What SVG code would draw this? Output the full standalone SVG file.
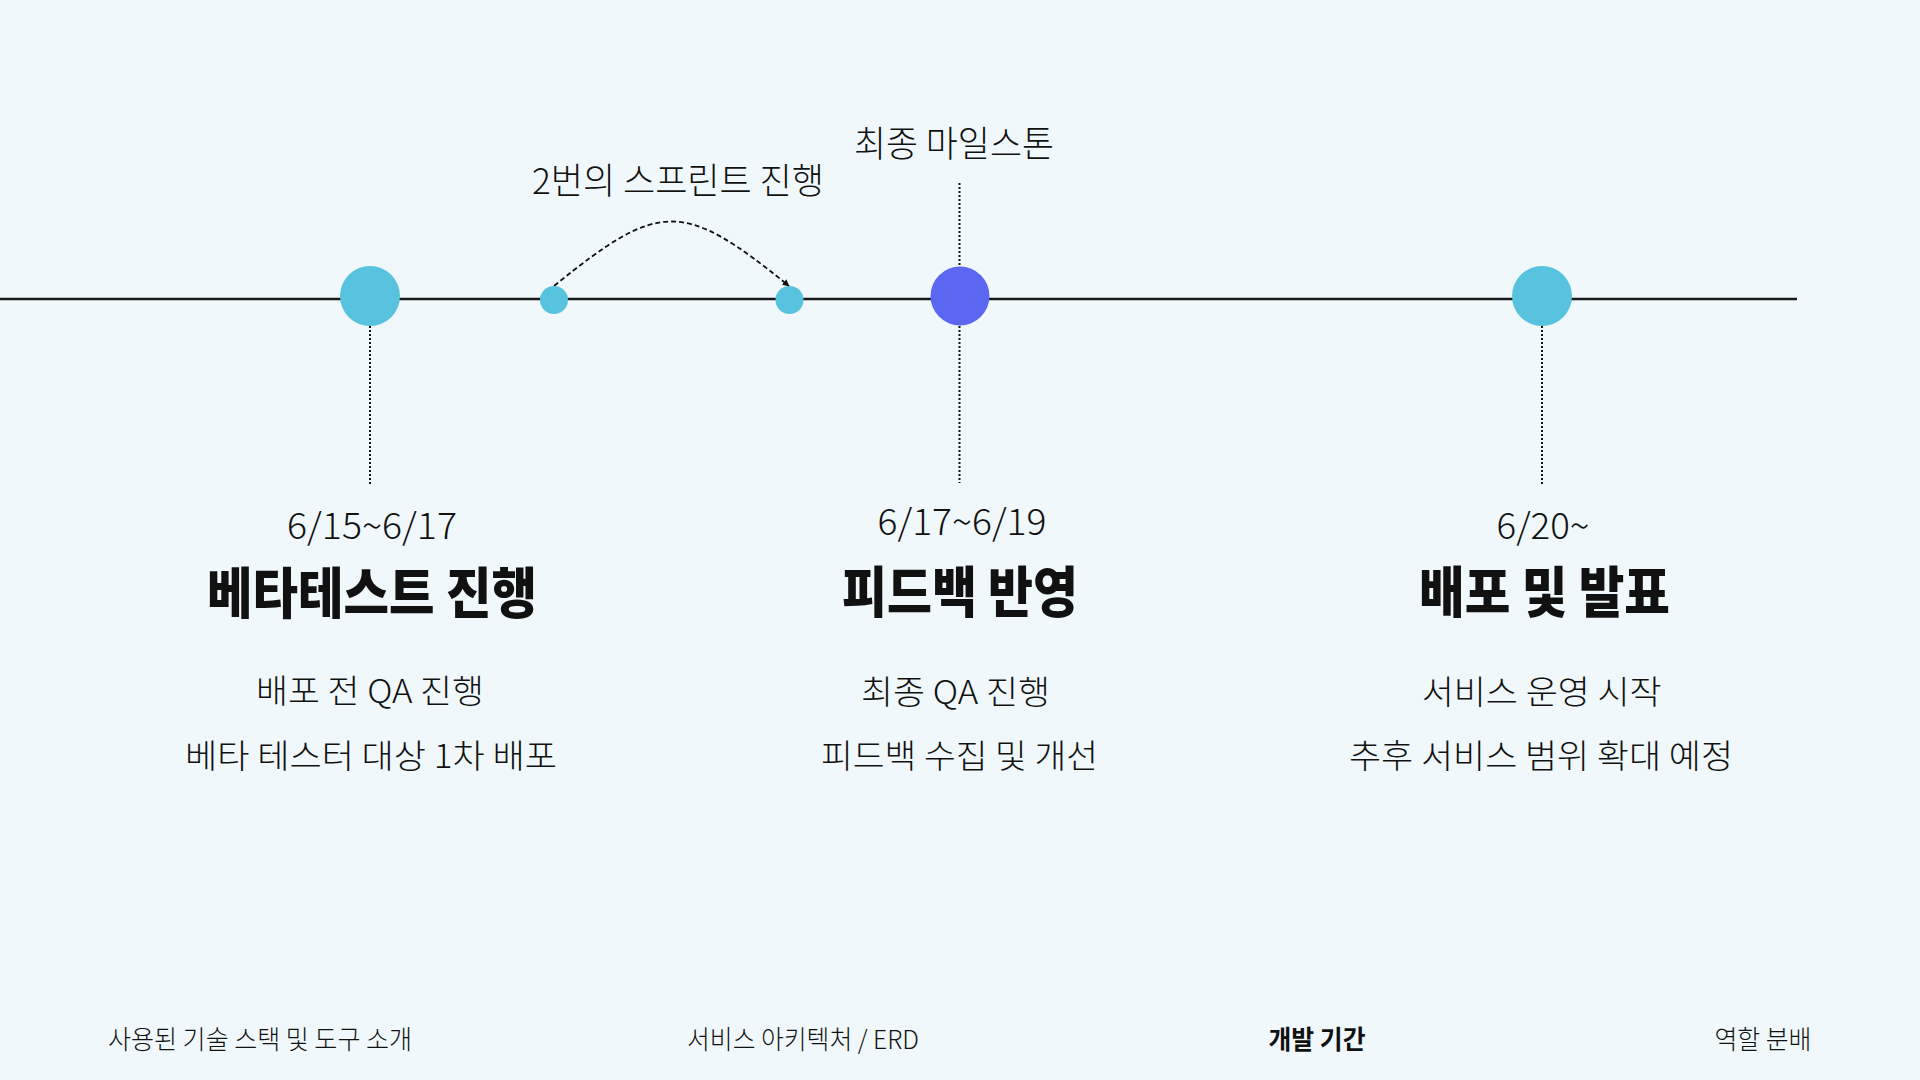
<svg xmlns="http://www.w3.org/2000/svg" width="1920" height="1080" viewBox="0 0 1920 1080">
  <defs>
    <marker id="arrow" viewBox="0 0 10 10" refX="9" refY="5" markerWidth="7" markerHeight="7" markerUnits="userSpaceOnUse" orient="auto">
      <path d="M0,0 L10,5 L0,10 z" fill="#111"/>
    </marker>
    <style>
      text { font-family: "Noto Sans CJK KR", "Noto Sans", sans-serif; fill: #111; text-anchor: middle; }
      .date { font-size: 36px; font-weight: 300; }
      .title { font-size: 55px; font-weight: 800; }
      .desc { font-size: 33px; font-weight: 300; }
      .label { font-size: 36px; font-weight: 300; }
      .nav { font-size: 26px; font-weight: 300; }
      .navb { font-size: 26px; font-weight: 700; }
      .dot { stroke: #111; stroke-width: 2; stroke-dasharray: 2 2; fill: none; }
      .cyan { fill: #57C3DE; }
      .purple { fill: #5B67F1; }
    </style>
  </defs>
  <rect width="1920" height="1080" fill="#F0F8FB"/>

  <g id="connectors">
    <line x1="0" y1="299" x2="1797" y2="299" stroke="#1a1a1a" stroke-width="2.5"/>
    <line class="dot" x1="370" y1="326" x2="370" y2="484"/>
    <line class="dot" x1="959.5" y1="183" x2="959.5" y2="267"/>
    <line class="dot" x1="959.5" y1="326" x2="959.5" y2="483"/>
    <line class="dot" x1="1542" y1="326" x2="1542" y2="484"/>
    <path d="M554,286 C660,200 683,200 789,286" fill="none" stroke="#111" stroke-width="1.8" stroke-dasharray="5 3" marker-end="url(#arrow)"/>
  </g>

  <g id="node-beta">
    <circle class="cyan" cx="370" cy="296" r="30"/>
    <text class="date" x="372" y="539" textLength="170" lengthAdjust="spacingAndGlyphs">6/15~6/17</text>
    <text class="title" x="372" y="613" textLength="330" lengthAdjust="spacingAndGlyphs">베타테스트 진행</text>
    <text class="desc" x="370" y="703" textLength="228" lengthAdjust="spacingAndGlyphs">배포 전 QA 진행</text>
    <text class="desc" x="371" y="768" textLength="372" lengthAdjust="spacingAndGlyphs">베타 테스터 대상 1차 배포</text>
  </g>

  <g id="node-sprint1">
    <circle class="cyan" cx="554" cy="300" r="14"/>
  </g>
  <g id="node-sprint2">
    <circle class="cyan" cx="789.5" cy="300" r="14"/>
  </g>
  <g id="sprint-label">
    <text class="label" x="678" y="194" textLength="292" lengthAdjust="spacingAndGlyphs">2번의 스프린트 진행</text>
  </g>

  <g id="node-feedback">
    <circle class="purple" cx="960" cy="296" r="29.5"/>
    <text class="label" x="954" y="157" textLength="200" lengthAdjust="spacingAndGlyphs">최종 마일스톤</text>
    <text class="date" x="962" y="535" textLength="169" lengthAdjust="spacingAndGlyphs">6/17~6/19</text>
    <text class="title" x="960" y="612" textLength="236" lengthAdjust="spacingAndGlyphs">피드백 반영</text>
    <text class="desc" x="955.5" y="704" textLength="189" lengthAdjust="spacingAndGlyphs">최종 QA 진행</text>
    <text class="desc" x="959.5" y="768" textLength="277" lengthAdjust="spacingAndGlyphs">피드백 수집 및 개선</text>
  </g>

  <g id="node-release">
    <circle class="cyan" cx="1542" cy="296" r="30"/>
    <text class="date" x="1543" y="539" textLength="93" lengthAdjust="spacingAndGlyphs">6/20~</text>
    <text class="title" x="1544.5" y="612" textLength="251" lengthAdjust="spacingAndGlyphs">배포 및 발표</text>
    <text class="desc" x="1541.7" y="704" textLength="240" lengthAdjust="spacingAndGlyphs">서비스 운영 시작</text>
    <text class="desc" x="1541" y="768" textLength="384" lengthAdjust="spacingAndGlyphs">추후 서비스 범위 확대 예정</text>
  </g>

  <g id="nav">
    <text class="nav" x="260" y="1049" textLength="304" lengthAdjust="spacingAndGlyphs">사용된 기술 스택 및 도구 소개</text>
    <text class="nav" x="803" y="1049" textLength="232" lengthAdjust="spacingAndGlyphs">서비스 아키텍처 / ERD</text>
    <text class="navb" x="1317" y="1049" textLength="97" lengthAdjust="spacingAndGlyphs">개발 기간</text>
    <text class="nav" x="1763" y="1049" textLength="97" lengthAdjust="spacingAndGlyphs">역할 분배</text>
  </g>
</svg>
